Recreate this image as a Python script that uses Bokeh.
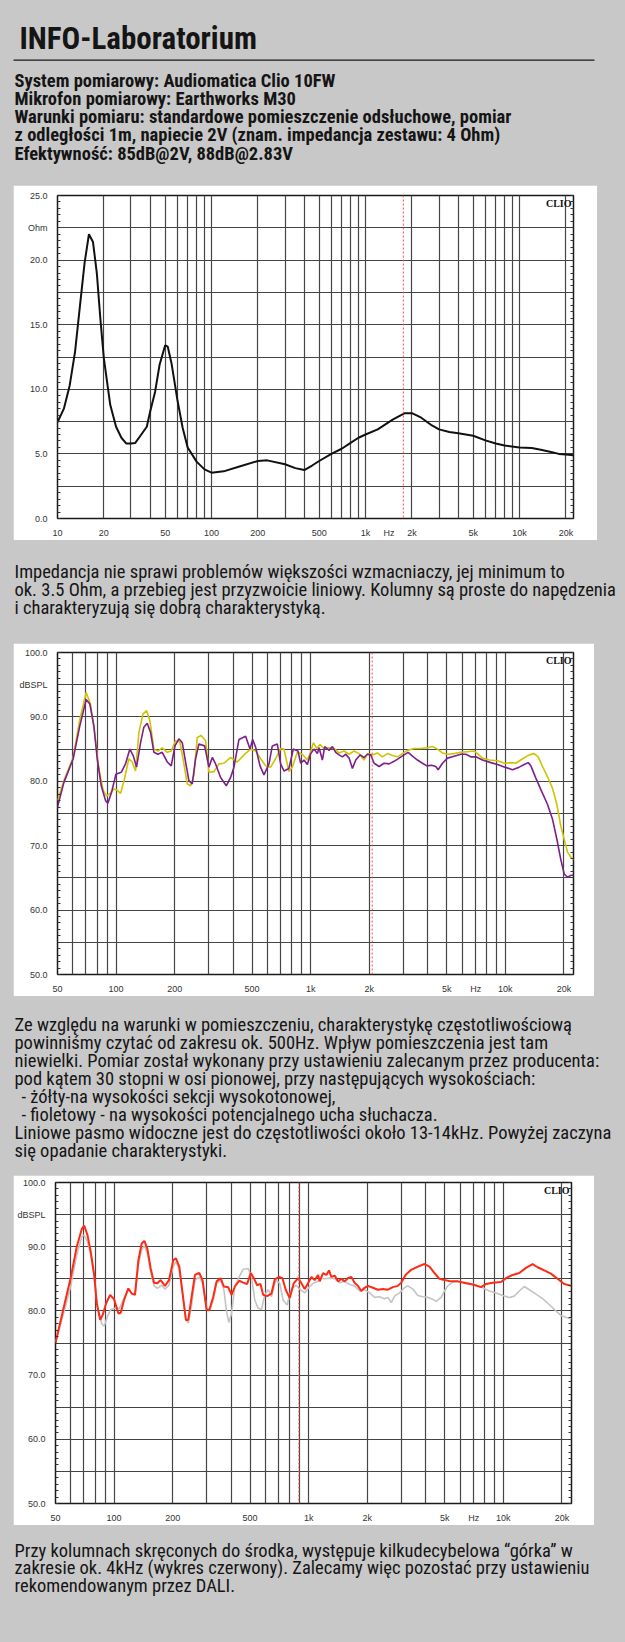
from bokeh.plotting import figure
from bokeh.layouts import column
from bokeh.models import Range1d, FixedTicker, LinearAxis, Label, Span, GlobalInlineStyleSheet
from bokeh.embed import file_html
from bokeh.resources import INLINE
from bokeh.core.properties import value

# ------------------------------------------------------------------ texts
title_text = "INFO-Laboratorium"
spec_lines = [
    "System pomiarowy: Audiomatica Clio 10FW",
    "Mikrofon pomiarowy: Earthworks M30",
    "Warunki pomiaru: standardowe pomieszczenie odsłuchowe, pomiar",
    "z odległości 1m, napiecie 2V (znam. impedancja zestawu: 4 Ohm)",
    "Efektywność: 85dB@2V,  88dB@2.83V",
]
imp_lines = [
    "Impedancja nie sprawi problemów większości wzmacniaczy, jej minimum to",
    "ok. 3.5 Ohm, a przebieg jest przyzwoicie liniowy. Kolumny są proste do napędzenia",
    "i charakteryzują się dobrą charakterystyką.",
]
fr_lines = [
    "Ze względu na warunki w pomieszczeniu, charakterystykę częstotliwościową",
    "powinniśmy czytać od zakresu ok. 500Hz. Wpływ pomieszczenia jest tam",
    "niewielki. Pomiar został wykonany przy ustawieniu zalecanym przez producenta:",
    "pod kątem 30 stopni w osi pionowej, przy następujących wysokościach:",
    "- żółty-na wysokości sekcji wysokotonowej,",
    "- fioletowy - na wysokości potencjalnego ucha słuchacza.",
    "Liniowe pasmo widoczne jest do częstotliwości około 13-14kHz. Powyżej zaczyna",
    "się opadanie charakterystyki.",
]
fr_indent = [0, 0, 0, 0, 1, 1, 0, 0]
toe_lines = [
    "Przy kolumnach skręconych do środka, występuje kilkudecybelowa “górka” w",
    "zakresie ok. 4kHz (wykres czerwony). Zalecamy więc pozostać przy ustawieniu",
    "rekomendowanym przez DALI.",
]

# ------------------------------------------------------------------ chart 1: impedance
imp_freq = [10, 11, 12, 13, 14, 15, 16, 17, 18, 19, 20, 22, 24, 26, 28, 30, 32, 35, 38, 40,
            43, 46, 50, 52, 55, 60, 65, 70, 80, 90, 100, 120, 150, 200, 230, 300, 350, 400,
            450, 500, 600, 700, 800, 900, 1000, 1200, 1500, 1800, 2000, 2300, 2700, 3000,
            3500, 4000, 5000, 6000, 7000, 8000, 10000, 12000, 14000, 16000, 18000, 20000, 22400]
imp_ohm = [7.45, 8.5, 10.3, 12.9, 16.5, 19.8, 22.0, 21.4, 19.0, 15.4, 12.4, 8.8, 7.1, 6.25,
           5.8, 5.8, 5.85, 6.5, 7.1, 8.3, 9.8, 11.9, 13.4, 13.3, 12.0, 9.2, 7.0, 5.5, 4.4,
           3.8, 3.55, 3.65, 4.0, 4.45, 4.5, 4.2, 3.9, 3.75, 4.1, 4.45, 5.0, 5.4, 5.85, 6.25,
           6.5, 6.9, 7.65, 8.15, 8.15, 7.8, 7.2, 6.9, 6.7, 6.6, 6.4, 6.05, 5.8, 5.65, 5.5,
           5.45, 5.3, 5.15, 5.0, 4.95, 4.9]
imp_marker = [1760]
imp_xtick_vals = [10, 20, 50, 100, 200, 500, 1000, 1420, 2000, 5000, 10000, 20000]
imp_xtick_labels = ["10", "20", "50", "100", "200", "500", "1k", "Hz", "2k", "5k", "10k", "20k"]
imp_ytick_vals = [0, 2.5, 5, 7.5, 10, 12.5, 15, 17.5, 20, 22.5, 25]
imp_ytick_labels = ["0.0", "", "5.0", "", "10.0", "", "15.0", "", "20.0", "Ohm", "25.0"]

# ------------------------------------------------------------------ chart 2: two heights
yel_freq = [50, 53.9, 60.2, 65.1, 70.2, 73.9, 77.5, 81.6, 85.9, 89.3, 93.7, 97.4, 101.4,
            105.4, 110.5, 116.3, 121.0, 125.9, 131.0, 137.3, 143.4, 149.2, 156.4, 164.0,
            172.6, 183.2, 192.0, 202.2, 212.8, 222.2, 232.1, 241.4, 251.1, 261.2, 273.8,
            288.4, 300.0, 318.3, 337.7, 358.3, 387.7, 419.5, 453.9, 491.2, 521.3, 553.1,
            586.8, 622.5, 660.2, 700.6, 728.8, 773.2, 804.3, 853.4, 905.4,
            961, 1000, 1032, 1074, 1117, 1171, 1242, 1318, 1399, 1484, 1575, 1670, 1772,
            1880, 1956, 2075, 2202, 2336, 2479, 2630, 2790, 2960, 3140, 3399, 3678, 3980,
            4222, 4480, 4754, 5042, 5458, 5906, 6390, 6917, 7194, 7630, 8258, 9113, 9940,
            10670, 11324, 12256, 13260, 14070, 14750, 15530, 16480, 17480, 18400, 19290,
            20070, 20870, 21720, 22400]
yel_db = [77.0, 80.1, 83.7, 89.6, 93.8, 92.0, 87.6, 81.9, 78.6, 77.7, 78.2, 78.8, 78.6,
          78.1, 80.4, 83.5, 83.0, 81.6, 87.6, 90.4, 91.0, 89.4, 85.0, 84.7,
          85.2, 84.5, 84.7, 86.3, 86.1, 83.0, 79.6, 79.3, 80.9, 86.8, 87.1,
          86.3, 81.4, 81.5, 82.7, 82.8, 83.7, 83.0, 84.1, 85.0, 84.7, 83.5,
          82.4, 82.2, 83.5, 85.1, 85.0, 81.5, 82.2, 84.5, 84.2,
          83.3, 84.6, 86.0, 85.1, 85.7, 85.1, 85.2, 85.1, 84.4, 84.7, 84.2, 84.7, 84.3,
          83.3, 84.3, 84.1, 84.4, 83.8, 84.3, 84.0, 83.8, 84.3, 84.8, 85.1, 85.1, 85.2,
          85.4, 85.0, 84.4, 84.2, 84.3, 84.5, 84.6, 84.7, 84.3, 83.6, 83.3, 83.2, 82.8,
          82.9, 82.8, 83.5, 84.1, 84.3, 83.8, 82.3, 80.7, 78.9, 76.4, 73.0,
          71.0, 69.0, 68.2, 67.8]
pur_freq = [50, 53.9, 60.2, 65.1, 70.2, 73.3, 76.9, 80.0, 83.9, 88.3, 90.7, 94.8, 99.8,
            106.3, 111.8, 117.7, 122.4, 127.4, 133.6, 138.9, 144.5, 150.4, 156.4, 164.0,
            172.6, 183.2, 192.0, 200.7, 210.3, 218.8, 227.5, 236.7, 246.2, 256.1, 266.4,
            285.0, 300.0, 312.1, 324.6, 344.4, 368.3, 387.7, 403.3, 427.9, 463.0, 487.5,
            503.0, 521.3, 548.8, 575.3, 610.4, 634.7, 673.4, 700.6, 728.8, 773.2, 814.0,
            860.2, 888, 924, 961, 1000, 1040, 1082, 1104, 1148, 1180, 1242, 1292, 1344,
            1399, 1455, 1514, 1575, 1638, 1704, 1793, 1880, 1956, 2034, 2117, 2246, 2382,
            2527, 2682, 2846, 3019, 3166, 3333, 3535, 3751, 3950, 4172, 4392, 4515, 4754,
            5042, 5458, 5906, 6265, 6645, 7054, 7630, 8423, 9113, 9940, 10886, 11780,
            12500, 13100, 13525, 14350, 15225, 16480, 17480, 18400, 19290, 20070, 20870,
            21720, 22400]
pur_db = [76.0, 79.8, 83.5, 88.6, 92.7, 92.0, 88.6, 83.5, 79.3, 77.0, 76.6, 78.3, 81.1,
          81.4, 82.7, 85.0, 84.0, 82.2, 86.0, 88.4, 89.0, 87.6, 84.5, 84.2,
          84.5, 83.0, 82.4, 85.5, 86.6, 86.0, 83.0, 80.1, 79.6, 83.5, 85.8,
          85.5, 82.2, 83.7, 82.7, 80.6, 79.3, 80.6, 82.2, 86.5, 87.0, 85.0,
          86.5, 85.3, 82.4, 81.0, 82.7, 85.5, 85.8, 82.7, 81.6, 82.0, 85.0,
          84.7, 82.8, 83.3, 82.6, 84.3, 85.0, 84.3, 85.2, 83.3, 85.4, 84.8, 85.4, 84.5,
          84.1, 83.8, 84.2, 83.6, 82.0, 83.3, 84.1, 83.7, 84.2, 84.1, 82.8, 82.3, 82.8,
          82.7, 83.1, 83.6, 84.1, 84.5, 83.9, 83.3, 82.8, 82.4, 82.5, 82.3, 81.8, 82.8,
          83.6, 83.9, 84.2, 84.2, 83.8, 83.8, 83.3, 82.9, 82.6, 82.2, 81.8, 82.2,
          82.6, 82.9, 82.4, 80.5, 78.7, 76.4, 74.1, 71.0, 67.8, 65.6, 65.1,
          65.4, 65.4]
fr_marker = [2070]

# ------------------------------------------------------------------ chart 3: toe-in
red_freq = [50, 55.0, 60.0, 64.3, 68.3, 70.2, 73.0, 75.9, 79.0, 81.5, 84.8, 87.5, 91.0,
            95.4, 100, 105.3, 108.2, 112.5, 118.4, 123.2, 128.1, 133.3, 138.6, 143.1,
            148.2, 154.2, 160.4, 166.8, 173.5, 182.6, 191.5, 201.5, 207.9, 216.3, 225.0,
            233.9, 240.5, 250.2, 260.3, 274.0, 284.9, 298.7, 308.3, 323.2, 336.2, 352.4,
            366.5, 385.8, 401.3, 417.4, 439.3, 460.5, 482.8, 504.1, 522.3, 543.3, 565.1,
            583.2, 611.3, 643.4, 669.3, 704.4, 732.8, 762.2, 799.1, 837.8, 881.7, 917.1,
            953.9, 992.3, 1032, 1073, 1117, 1139, 1185, 1232, 1272, 1307, 1359, 1414, 1471,
            1530, 1591, 1655, 1721, 1791, 1863, 1937, 2015, 2138, 2268, 2405, 2551, 2707,
            2871, 2987, 3144, 3361, 3637, 3935, 4174, 4428, 4697, 4982, 5391, 5832, 6434,
            6961, 7682, 8150, 8817, 9728, 10320, 11165, 12081, 13069, 14140, 15001, 16229,
            17556, 18990, 20550, 22400]
red_db = [75.0, 80.4, 85.3, 90.0, 92.8, 93.3, 91.8, 89.2, 85.6, 81.2, 78.6, 79.4, 81.2,
          82.5, 81.8, 79.6, 79.7, 81.7, 83.5, 82.7, 82.5, 87.9, 90.5, 90.9,
          89.7, 86.6, 84.4, 84.3, 84.8, 83.9, 84.8, 87.9, 88.2, 86.9, 82.7,
          78.6, 78.6, 82.2, 85.6, 85.9, 84.8, 80.2, 80.1, 82.2, 84.6, 85.1,
          83.8, 83.7, 82.5, 83.8, 84.7, 84.4, 84.2, 85.9, 85.1, 84.0, 84.2,
          82.5, 82.3, 82.7, 84.9, 85.3, 85.1, 83.3, 82.0, 84.3, 85.1, 84.3,
          83.4, 84.3, 85.3, 84.8, 85.6, 84.6, 85.9, 85.6, 86.3, 85.3, 85.5, 84.6, 85.0,
          84.6, 85.1, 85.3, 84.4, 83.9, 83.1, 83.6, 83.9, 83.6, 83.3, 83.4, 83.3, 83.7,
          83.9, 84.4, 85.6, 86.4, 86.9, 87.3, 86.9, 85.9, 85.0, 84.8, 84.6, 84.6, 84.3,
          84.1, 83.7, 84.2, 84.4, 84.5, 85.1, 85.6, 85.9, 86.7, 87.3, 86.8, 86.3,
          85.8, 85.0, 84.2, 83.9]
gray_freq = [50, 55.0, 60.0, 64.3, 68.3, 70.2, 73.0, 75.9, 79.0, 82.1, 86.4, 88.9, 92.4,
             96.1, 101.2, 106.5, 112.5, 118.4, 123.2, 128.1, 133.3, 138.6, 143.1, 148.2,
             154.2, 160.4, 166.8, 175.6, 182.6, 191.5, 200, 207.9, 216.3, 225.0, 233.9,
             240.5, 250.2, 260.3, 274.0, 284.9, 298.7, 310.7, 323.2, 336.2, 352.4, 366.5,
             378.3, 388.8, 401.3, 417.4, 439.3, 460.5, 488.5, 508.1, 528.5, 549.8, 571.9,
             594.8, 618.6, 643.4, 677.3, 710.0, 738.6, 774.3, 815.0, 864.6, 906.4, 953.9,
             1004, 1052, 1117, 1139, 1208, 1282, 1359, 1442, 1530, 1623, 1721, 1826, 1937,
             2055, 2181, 2313, 2453, 2551, 2653, 2761, 2929, 3107, 3231, 3428, 3637, 3858,
             4093, 4341, 4515, 4790, 4982, 5183, 5498, 5832, 6434, 7101, 7834, 8477, 9171,
             9922, 10734, 11386, 12081, 12815, 13594, 14708, 15911, 17213, 18625, 19753,
             20958, 22400]
gray_db = [75.2, 79.6, 84.0, 88.7, 91.6, 91.8, 90.8, 88.7, 85.3, 80.7, 78.0, 77.6, 79.1,
           80.2, 80.4, 80.4, 82.0, 83.5, 82.7, 82.7, 87.2, 89.5, 90.1, 89.0,
           86.1, 83.9, 83.5, 84.0, 83.4, 84.0, 86.6, 87.7, 86.4, 82.5, 78.7,
           78.1, 80.9, 84.8, 85.3, 84.3, 80.4, 80.2, 81.7, 84.3, 84.8, 83.3,
           79.9, 78.2, 79.6, 83.8, 85.3, 86.5, 86.6, 85.3, 81.7, 80.4, 80.2,
           82.5, 83.3, 82.2, 84.8, 84.3, 81.7, 80.9, 83.5, 84.0, 83.3, 82.8,
           83.7, 84.3, 84.6, 85.1, 85.0, 85.1, 85.0, 84.4, 84.6, 84.1, 83.9, 83.1, 83.3,
           82.8, 82.1, 82.2, 81.9, 82.1, 81.3, 82.3, 82.8, 83.6, 83.9, 83.4, 82.4, 82.2,
           82.1, 81.8, 81.5, 82.1, 83.1, 83.9, 84.5, 84.6, 84.4, 84.1, 83.6, 83.1, 82.8,
           82.4, 82.1, 82.3, 83.1, 83.8, 83.3, 82.6, 81.9, 81.0, 80.0, 79.3,
           79.0, 78.7]
toe_marker = [890]

spl_xtick_vals = [50, 100, 200, 500, 1000, 2000, 5000, 7050, 10000, 20000]
spl_xtick_labels = ["50", "100", "200", "500", "1k", "2k", "5k", "Hz", "10k", "20k"]
spl_ytick_vals = [50, 55, 60, 65, 70, 75, 80, 85, 90, 95, 100]
spl_ytick_labels = ["50.0", "", "60.0", "", "70.0", "", "80.0", "", "90.0", "dBSPL", "100.0"]

# ------------------------------------------------------------------ styling
BG = "#c8c8c8"
BODY_FONT = "'Roboto Condensed', 'Liberation Sans Narrow', 'Arial Narrow', 'DejaVu Sans Condensed', Roboto, sans-serif"
AXIS_FONT = "Liberation Sans"
PAGE_W = 625
TXT = "#151515"


def text_panel(top, bottom):
    p = figure(width=PAGE_W, height=bottom - top, x_range=Range1d(0, PAGE_W),
               y_range=Range1d(bottom, top), output_backend="svg", toolbar_location=None,
               min_border=0, x_axis_location=None, y_axis_location=None,
               background_fill_color=BG, border_fill_color=BG, outline_line_color=None,
               frame_align=False)
    p.grid.visible = False
    return p


def chart(width, height, left, right, top, bottom, xr, yr, xticks, xlabels,
          yticks, ylabels, yminor, marker):
    p = figure(width=width, height=height, x_axis_type="log",
               x_range=Range1d(*xr), y_range=Range1d(*yr),
               output_backend="svg", toolbar_location=None,
               min_border_left=left, min_border_right=right,
               min_border_top=top, min_border_bottom=bottom,
               background_fill_color="white", border_fill_color="white",
               outline_line_color="#1a1a1a", outline_line_width=1.5,
               margin=(0, 0, 0, 13), frame_align=False)
    grid_vals = [m * 10 ** k for k in range(1, 5) for m in range(1, 10)] + [20000]
    grid_vals = [g for g in grid_vals if xr[0] <= g <= xr[1]]
    p.xgrid[0].ticker = FixedTicker(ticks=grid_vals)
    p.ygrid[0].ticker = FixedTicker(ticks=yticks)
    for g in (p.xgrid[0], p.ygrid[0]):
        g.grid_line_color = "#454545"
        g.grid_line_width = 1.2

    xa = p.xaxis[0]
    xa.ticker = FixedTicker(ticks=xticks)
    xa.major_label_overrides = dict(zip(xticks, xlabels))
    xa.axis_line_color = None
    xa.major_tick_line_color = None
    xa.minor_tick_line_color = None
    xa.major_label_standoff = 3
    ya = p.yaxis[0]
    ya.ticker = FixedTicker(ticks=yticks, minor_ticks=yminor)
    ya.major_label_overrides = dict(zip(yticks, ylabels))
    ya.axis_line_color = None
    ya.major_tick_line_color = None
    ya.minor_tick_in = 3
    ya.minor_tick_out = 0
    ya.minor_tick_line_color = "#333333"
    ya.major_label_standoff = 4
    for a in (xa, ya):
        a.major_label_text_font = AXIS_FONT
        a.major_label_text_font_size = "9px"
        a.major_label_text_color = "#333333"

    ra = LinearAxis(ticker=FixedTicker(ticks=[], minor_ticks=yminor),
                    axis_line_color=None, major_tick_line_color=None,
                    minor_tick_in=3, minor_tick_out=0, minor_tick_line_color="#333333",
                    major_label_text_font_size="0px", major_label_standoff=0)
    p.add_layout(ra, "right")

    for m in marker:
        p.add_layout(Span(location=m, dimension="height", line_color="#ff4d4d",
                          line_dash="2 2", line_width=1))
    p.add_layout(Label(x=xr[1], y=yr[1], x_offset=-2, y_offset=-2, text="CLIO",
                       text_align="right", text_baseline="top",
                       text_font="Liberation Serif", text_font_style="bold",
                       text_font_size="10px", text_color="#111111"))
    return p


def body_text(p, xs, ys, lines, size, bold=False):
    p.text(x=xs, y=ys, text=lines, text_font=value(BODY_FONT), text_font_size=size,
           text_font_style="bold" if bold else "normal", text_color=TXT,
           text_baseline="middle", text_align="left")


# ------------------------------------------------------------------ header
head = text_panel(0, 185)
body_text(head, [19], [37.5], [title_text], "31px", bold=True)
head.segment(x0=[13], y0=[59.7], x1=[594], y1=[59.7], line_color="#1a1a1a", line_width=1.2)
body_text(head, [14] * len(spec_lines), [80.6 + 18.1 * i for i in range(len(spec_lines))],
          spec_lines, "18.5px", bold=True)

# ------------------------------------------------------------------ chart 1
c1 = chart(584, 355, 44, 24, 10, 18, (10, 22400), (0, 25),
           imp_xtick_vals, imp_xtick_labels, imp_ytick_vals, imp_ytick_labels,
           [i * 0.5 for i in range(51)], imp_marker)
c1.line(x=imp_freq, y=imp_ohm, line_color="#111111", line_width=2)

# ------------------------------------------------------------------ text 2
t2 = text_panel(540, 643)
body_text(t2, [14] * len(imp_lines), [571 + 18.2 * i for i in range(len(imp_lines))],
          imp_lines, "18.5px")

# ------------------------------------------------------------------ chart 2
c2 = chart(581, 353, 44, 21, 9, 18, (50, 22400), (50, 100),
           spl_xtick_vals, spl_xtick_labels, spl_ytick_vals, spl_ytick_labels,
           [50 + i for i in range(51)], fr_marker)
c2.line(x=yel_freq, y=yel_db, line_color="#cfc400", line_width=1.6)
c2.line(x=pur_freq, y=pur_db, line_color="#7f1f8c", line_width=1.6)

# ------------------------------------------------------------------ text 3
t3 = text_panel(996, 1175)
body_text(t3, [14 + 7 * k for k in fr_indent], [1024.5 + 18.05 * i for i in range(len(fr_lines))],
          fr_lines, "18.5px")

# ------------------------------------------------------------------ chart 3
c3 = chart(581, 350, 42, 23, 7, 17, (50, 22400), (50, 100),
           spl_xtick_vals, spl_xtick_labels, spl_ytick_vals, spl_ytick_labels,
           [50 + i for i in range(51)], toe_marker)
c3.line(x=gray_freq, y=gray_db, line_color="#c4c4c4", line_width=1.6)
c3.line(x=red_freq, y=red_db, line_color="#ff2a14", line_width=2)

# ------------------------------------------------------------------ text 4
t4 = text_panel(1525, 1642)
body_text(t4, [14] * len(toe_lines), [1550 + 17.8 * i for i in range(len(toe_lines))],
          toe_lines, "18.5px")

p = column(head, c1, t2, c2, t3, c3, t4, spacing=0)
p.stylesheets = [GlobalInlineStyleSheet(css="html, body { background: #c8c8c8; }")]

open("out.html", "w", encoding="utf-8").write(file_html(p, INLINE))
